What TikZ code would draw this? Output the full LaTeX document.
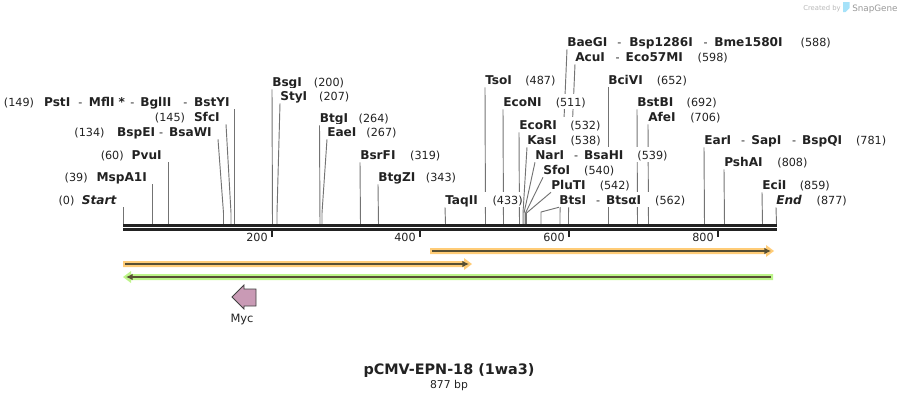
\documentclass[tikz,border=0pt]{standalone}
\usepackage{fontspec}
\usepackage{xcolor}
\setmainfont{DejaVu Sans}
\usetikzlibrary{arrows.meta}
\definecolor{barorange}{HTML}{FFCC77}
\definecolor{bargreen}{HTML}{BDF58A}
\definecolor{barcore}{HTML}{574F33}
\definecolor{mycpink}{HTML}{C99AB5}
\definecolor{inkdark}{HTML}{222222}
\pgfdeclarelayer{under}
\pgfsetlayers{under,main}
\newcommand{\cutname}[1]{{\fontsize{9.1}{10}\selectfont\bfseries #1}}
\newcommand{\cutgap}[1]{\hspace*{#1pt}}
\tikzset{
    rowright/.style={anchor=base west, inner sep=0pt, fill=white, text height=9pt, text depth=2.25pt, font=\fontsize{8.4}{10}\selectfont, text=inkdark},
    rowleft/.style={rowright, anchor=base east},
    leader/.style={black!55, line width=0.7pt},
    tick/.style={inkdark, line width=1.5pt},
    ticklabel/.style={anchor=base east, inner sep=0pt, font=\fontsize{8.4}{10}\selectfont, text=inkdark}
}
\begin{document}
\begin{tikzpicture}[x=0.75pt, y=-0.75pt]
    \useasboundingbox (0, 0) rectangle (900, 400);

    % --- Labels, left of their sites ---
    \node[rowleft] (Start) at (123.5, 204) {(0)\cutgap{5.5}\textit{\cutname{Start}}\cutgap{4.9}};
    \node[rowleft] (MspAI) at (152.5, 181) {(39)\cutgap{6.7}\cutname{MspA1I}\cutgap{4}};
    \node[rowleft] (PvuI) at (168.5, 159) {(60)\cutgap{6}\cutname{PvuI}\cutgap{4.9}};
    \node[rowleft] (BspEI) at (218, 136) {(134)\cutgap{9.5}\cutname{BspEI}\cutgap{3}-\cutgap{4.5}\cutname{BsaWI}\cutgap{4.5}};
    \node[rowleft] (SfcI) at (226, 121) {(145)\cutgap{6.7}\cutname{SfcI}\cutgap{4.5}};
    \node[rowleft] (PstI) at (234.5, 106) {(149)\cutgap{7.5}\cutname{PstI}\cutgap{6}-\cutgap{5}\cutname{MflI}\cutgap{3}\cutname{*}\cutgap{4}-\cutgap{4.5}\cutname{BglII}\cutgap{9}-\cutgap{5}\cutname{BstYI}\cutgap{3.4}};

    % --- Labels, right of their sites ---
    \node[rowright] (BsgI) at (272, 86) {\cutname{BsgI}\cutgap{9}(200)};
    \node[rowright] (StyI) at (280, 100) {\cutname{StyI}\cutgap{9}(207)};
    \node[rowright] (BtgI) at (319.5, 122) {\cutname{BtgI}\cutgap{8}(264)};
    \node[rowright] (EaeI) at (327, 136) {\cutname{EaeI}\cutgap{7.5}(267)};
    \node[rowright] (BsrFI) at (360, 159) {\cutname{BsrFI}\cutgap{11}(319)};
    \node[rowright] (BtgZI) at (378, 181) {\cutname{BtgZI}\cutgap{8}(343)};
    \node[rowright] (TaqII) at (445, 204) {\cutname{TaqII}\cutgap{11}(433)};
    \node[rowright] (TsoI) at (485, 84) {\cutname{TsoI}\cutgap{10}(487)};
    \node[rowright] (EcoNI) at (503, 106) {\cutname{EcoNI}\cutgap{10.5}(511)};
    \node[rowright] (EcoRI) at (519, 129) {\cutname{EcoRI}\cutgap{10}(532)};
    \node[rowright] (KasI) at (527, 144) {\cutname{KasI}\cutgap{10.5}(538)};
    \node[rowright] (NarI) at (535, 159) {\cutname{NarI}\cutgap{7.5}-\cutgap{4.5}\cutname{BsaHI}\cutgap{10.5}(539)};
    \node[rowright] (SfoI) at (543, 174) {\cutname{SfoI}\cutgap{10.5}(540)};
    \node[rowright] (PluTI) at (551, 189) {\cutname{PluTI}\cutgap{10.5}(542)};
    \node[rowright] (BtsI) at (559, 204) {\cutname{BtsI}\cutgap{7.5}-\cutgap{4.5}\cutname{BtsαI}\cutgap{10.5}(562)};
    \node[rowright] (BaeGI) at (567, 46) {\cutname{BaeGI}\cutgap{7.5}-\cutgap{6}\cutname{Bsp1286I}\cutgap{8}-\cutgap{5}\cutname{Bme1580I}\cutgap{13.5}(588)};
    \node[rowright] (AcuI) at (575, 61) {\cutname{AcuI}\cutgap{8}-\cutgap{4.5}\cutname{Eco57MI}\cutgap{11}(598)};
    \node[rowright] (BciVI) at (608, 84) {\cutname{BciVI}\cutgap{10.5}(652)};
    \node[rowright] (BstBI) at (637, 106) {\cutname{BstBI}\cutgap{10}(692)};
    \node[rowright] (AfeI) at (648, 121) {\cutname{AfeI}\cutgap{11}(706)};
    \node[rowright] (EarI) at (704, 144) {\cutname{EarI}\cutgap{7.5}-\cutgap{4.5}\cutname{SapI}\cutgap{8}-\cutgap{4.5}\cutname{BspQI}\cutgap{10.5}(781)};
    \node[rowright] (PshAI) at (724, 166) {\cutname{PshAI}\cutgap{11}(808)};
    \node[rowright] (EciI) at (762, 189) {\cutname{EciI}\cutgap{10}(859)};
    \node[rowright] (End) at (776, 204) {\textit{\cutname{End}}\cutgap{11}(877)};

    % --- Leaders, drawn under the labels ---
    \begin{pgfonlayer}{under}
        \foreach \name/\xsite in {Start/123.5, MspAI/152.5, PvuI/168.5, PstI/234.5}
            \draw[leader] (\name.south east) -- (\xsite, 224);
        \foreach \name/\xsite in {BsgI/272.5, BtgI/320, BsrFI/360.5, BtgZI/378.5, TaqII/445.5, TsoI/485.5, EcoNI/503.5, EcoRI/519.5, BciVI/608, BstBI/637.5, AfeI/648.5, EarI/704.5, PshAI/724.5, EciI/762.5, End/776.5}
            \draw[leader] (\name.south west) -- (\xsite, 224);
        \draw[leader] (BspEI.south east) -- (223.5, 213) -- (223.5, 224);
        \draw[leader] (SfcI.south east) -- (231, 213) -- (231, 224);
        \draw[leader] (StyI.south west) -- (277, 213) -- (277, 224);
        \draw[leader] (EaeI.south west) -- (322, 213) -- (322, 224);
        \draw[leader] (KasI.south west) -- (523, 213) -- (523, 224);
        \draw[leader] (NarI.south west) -- (524, 213) -- (524, 224);
        \draw[leader] (SfoI.south west) -- (525.5, 213) -- (525.5, 224);
        \draw[leader] (PluTI.south west) -- (526.5, 213) -- (526.5, 224);
        \draw[leader] (BtsI.south west) -- (541, 212) -- (541, 224);
        \draw[leader] (BaeGI.south west) -- (560, 213) -- (560, 224);
        \draw[leader] (AcuI.south west) -- (568.5, 213) -- (568.5, 224);
    \end{pgfonlayer}

    % --- Backbone ---
    \fill[inkdark] (123, 224) rectangle (777, 227);
    \fill[inkdark] (123, 228) rectangle (777, 231);

    % --- Ruler ---
    \draw[tick] (271.5, 231) -- (271.5, 237);
    \node[ticklabel] (tickA) at (268, 241.5) {200};
    \draw[tick] (420, 231) -- (420, 237);
    \node[ticklabel] (tickB) at (416, 241.5) {400};
    \draw[tick] (569, 231) -- (569, 237);
    \node[ticklabel] (tickC) at (565, 241.5) {600};
    \draw[tick] (717.5, 231) -- (717.5, 237);
    \node[ticklabel] (tickD) at (714, 241.5) {800};

    % --- Feature bars ---
    \fill[barorange] (430, 248) -- (766, 248) -- (766, 245) -- (774, 251) -- (766, 257) -- (766, 254) -- (430, 254) -- cycle;
    \draw[barcore, line width=1.3pt, -{Latex[length=5pt, width=5pt]}] (432, 251) -- (771, 251);
    \fill[barorange] (123, 261) -- (464, 261) -- (464, 258) -- (472, 264) -- (464, 270) -- (464, 267) -- (123, 267) -- cycle;
    \draw[barcore, line width=1.3pt, -{Latex[length=5pt, width=5pt]}] (125, 264) -- (469, 264);
    \fill[bargreen] (773, 274) -- (131, 274) -- (131, 271) -- (123, 277) -- (131, 283) -- (131, 280) -- (773, 280) -- cycle;
    \draw[barcore, line width=1.3pt, -{Latex[length=5pt, width=5pt]}] (771, 277) -- (126, 277);

    % --- Myc ---
    \draw[fill=mycpink, draw=black!75, line width=0.6pt] (256, 289) -- (244, 289) -- (244, 285) -- (232, 297) -- (244, 309) -- (244, 306) -- (256, 306) -- cycle;
    \node[inner sep=0pt, anchor=base, font=\fontsize{8.6}{10}\selectfont, text=inkdark] (Myc) at (242, 322.5) {Myc};

    % --- Title ---
    \node[inner sep=0pt, anchor=base, font=\fontsize{10.8}{12}\selectfont\bfseries, text=inkdark] (title) at (449, 374) {pCMV-EPN-18 (1wa3)};
    \node[inner sep=0pt, anchor=base, font=\fontsize{8.1}{10}\selectfont, text=inkdark] (size) at (449, 388) {877 bp};

    % --- Corner mark ---
    \node[inner sep=0pt, anchor=base west, font=\fontsize{5.1}{6}\selectfont, text=black!28] (created) at (803, 10) {Created by};
    \fill[cyan!35] (843, 2) -- (849.5, 2) -- (849.5, 8) -- (845.5, 12) -- (843, 12) -- cycle;
    \node[inner sep=0pt, anchor=base west, font=\fontsize{6.6}{8}\selectfont, text=black!40] (brand) at (852, 11) {SnapGene};
\end{tikzpicture}
\end{document}
